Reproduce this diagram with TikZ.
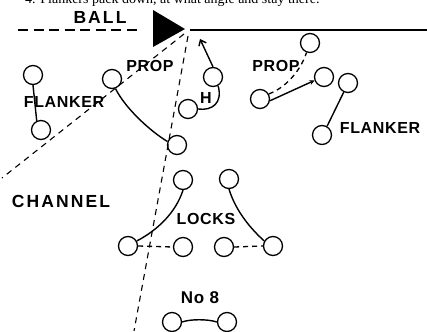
\documentclass[tikz,border=0pt]{standalone}
\usepackage{fontspec}
\setmainfont{Liberation Sans}
\newfontfamily\topserif{Liberation Serif}
\usetikzlibrary{arrows.meta}
\begin{document}
\begin{tikzpicture}[x=1pt,y=-1pt,
  pl/.style={circle,draw,line width=1.3pt,minimum size=19pt,inner sep=0pt},
  lbl/.style={font=\fontsize{16}{16}\selectfont\bfseries\addfontfeatures{LetterSpace=4},inner sep=0pt},
  bigl/.style={font=\fontsize{17.5}{17.5}\selectfont\bfseries\addfontfeatures{LetterSpace=12},inner sep=0pt},
  lnk/.style={line width=1.4pt},
  dlnk/.style={line width=1.3pt,dash pattern=on 5pt off 4pt},
  chan/.style={line width=1.1pt,dash pattern=on 6pt off 5pt}]
\useasboundingbox (0,0) rectangle (427,331);
% cut-off caption
\node[anchor=base west,inner sep=0pt,font=\topserif\fontsize{14}{14}\selectfont] (cap) at (25,3.5) {4. Flankers pack down, at what angle and stay there.};
% ball and lines
\coordinate (dl) at (18,30);
\coordinate (dr) at (141,30);
\draw[line width=2.6pt,dash pattern=on 10pt off 5.5pt] (dl) -- (dr);
\coordinate (t1) at (153,10);
\coordinate (tip) at (185,29);
\coordinate (t2) at (153,47);
\fill (t1) -- (tip) -- (t2) -- cycle;
\coordinate (ml) at (190,30);
\coordinate (mr) at (427,30);
\draw[line width=2.8pt] (ml) -- (mr);
\node[bigl] (ball) at (100,17) {BALL};
% channel dashed lines
\coordinate (c0) at (184,34);
\coordinate (c1) at (2,178);
\coordinate (c2) at (188,36);
\coordinate (c3) at (134,331);
\draw[chan] (c0) -- (c1);
\draw[chan] (c2) -- (c3);
% left flanker
\node[pl] (f1) at (33,75) {};
\node[pl] (f2) at (41,130) {};
\draw[lnk] (f1.south) -- (f2.115);
\node[lbl] (fl) at (64,102) {FLANKER};
% left prop
\node[pl] (p1) at (112,79) {};
\node[pl] (p2) at (177,145) {};
\draw[lnk] (p1.290) .. controls (125,108) and (150,131) .. (p2.160);
\node[lbl] (pl1) at (150,66) {PROP};
% hooker
\node[pl] (h1) at (213,77) {};
\node[pl] (h2) at (188,109) {};
\coordinate (ha) at (200,39);
\draw[lnk,-{Straight Barb[length=5pt,width=8pt]}] (h1.north) -- (ha);
\draw[lnk] (h2.east) .. controls (212,111) and (223,103) .. (h1.-60);
\node[lbl] (hl) at (206,98) {H};
% right prop
\node[pl] (r1) at (310,43) {};
\node[pl] (r2) at (324,77) {};
\node[pl] (r3) at (260,99) {};
\draw[dlnk] (r3.30) .. controls (285,88) and (300,72) .. (r1.-110);
\draw[lnk,-{Stealth[length=5pt,width=5pt]}] (r3.-10) -- (r2.-160);
\node[lbl] (pr) at (276,66) {PROP};
% right flanker
\node[pl] (rf1) at (348,83) {};
\node[pl] (rf2) at (322,135) {};
\draw[lnk] (rf1.-115) -- (rf2.60);
\node[lbl] (fr) at (380,128) {FLANKER};
% channel
\node[bigl] (ch) at (61,201) {CHANNEL};
% locks
\node[pl] (l1) at (183,180) {};
\node[pl] (l2) at (229,179) {};
\node[pl] (l3) at (128,246) {};
\node[pl] (l4) at (183,247) {};
\node[pl] (l5) at (224,247) {};
\node[pl] (l6) at (273,246) {};
\draw[lnk] (l1.south) .. controls (176,212) and (158,230) .. (l3.30);
\draw[lnk] (l2.south) .. controls (236,212) and (252,230) .. (l6.150);
\draw[dlnk] (l3.east) -- (l4.west);
\draw[dlnk] (l5.east) -- (l6.west);
\node[lbl] (lk) at (206,219) {LOCKS};
% number 8
\node[pl] (n1) at (172,322) {};
\node[pl] (n2) at (227,322) {};
\draw[lnk] (n1.east) .. controls (190,319) and (208,319) .. (n2.west);
\node[font=\fontsize{17}{17}\selectfont\bfseries\addfontfeatures{LetterSpace=4},inner sep=0pt] (n8) at (200,298) {No 8};
\end{tikzpicture}
\end{document}
